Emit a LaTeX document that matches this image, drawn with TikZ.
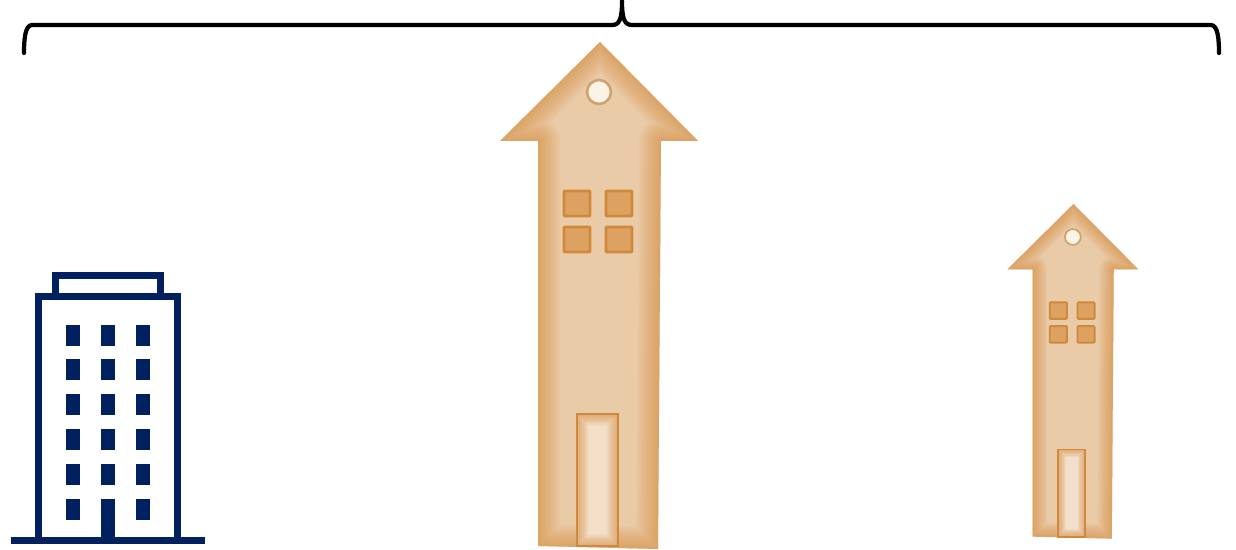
\documentclass[tikz,border=0pt]{standalone}
\usepackage{xcolor}
\usetikzlibrary{calc}
\definecolor{navy}{HTML}{002060}
\definecolor{wallbase}{HTML}{E9CBA8}
\definecolor{glowcol}{HTML}{D68A35}
\definecolor{winfill}{HTML}{DDA261}
\definecolor{winedge}{HTML}{D0893A}
\definecolor{doorlight}{HTML}{F3DFCA}
\definecolor{ringcol}{HTML}{CFA36F}
\definecolor{moon}{HTML}{FBF3E4}
\tikzset{
  bracket/.style={draw=black, line width=2.4pt, line cap=round, line join=round},
  tower/.style={draw=navy, line width=4pt, fill=white},
  pane/.style={fill=navy, draw=none}
}
% soft darker rim on the inside of a closed outline
\newcommand{\rimglow}[3]{%
  \begin{scope}
    \clip #1;
    \foreach \gi in {1,...,14}{
      \draw[glowcol, opacity=#3, line join=round, line width={\gi*\hs*#2*1pt}] #1;
    }
  \end{scope}}
\def\houseoutline{(0,0) -- (98,99) -- (61,99) -- (58,507) -- (-62,504) -- (-62,99) -- (-100,99) -- cycle}
\def\dooroutline{(-23,372) rectangle (18,504)}
\begin{document}
\begin{tikzpicture}[x=0.02cm,y=-0.02cm]
\useasboundingbox (0,0) rectangle (1236,550);

% brace
\draw[bracket] (24,53) .. controls (24,40) and (25,25) .. (32,25) -- (612,25)
  .. controls (619,25) and (622,20) .. (622,1) .. controls (622,20) and (625,25) .. (632,25)
  -- (1211,25) .. controls (1218,25) and (1219,40) .. (1219,53);

% office block
\draw[tower] (55.5,296) -- (55.5,275.5) -- (160.5,275.5) -- (160.5,296);
\draw[tower] (38.5,540) -- (38.5,296.5) -- (177.5,296.5) -- (177.5,540);
\draw[navy, line width=4pt] (10.5,540.3) -- (205,540.3);
\foreach \wx in {66,101,136}{
  \foreach \wy in {325,359,394,429,464}{
    \fill[pane] (\wx,\wy) rectangle ++(14,21);
  }
}
\fill[pane] (66,499) rectangle ++(14,21);
\fill[pane] (136,499) rectangle ++(14,21);
\fill[pane] (101,499) rectangle (115,538);

% the two houses
\foreach \hx/\hy/\hs in {600/42/1, 1073.5/204/0.66}{
  \begin{scope}[shift={(\hx,\hy)}, scale=\hs]
    \fill[wallbase] \houseoutline;
    \rimglow{\houseoutline}{1.8}{0.05}
    % windows
    \foreach \qx/\qy in {-36/149, 6/149, -36/185, 6/185}{
      \draw[winedge, fill=winfill, line width={\hs*1.6pt}, rounded corners=0.5pt] (\qx,\qy) rectangle ++(26,25);
    }
    % door
    \fill[doorlight] \dooroutline;
    \rimglow{\dooroutline}{0.95}{0.05}
    \draw[winedge, line width={\hs*1.6pt}] \dooroutline;
    % round window
    \draw[ringcol, fill=moon, line width={\hs*1.5pt}] (-1,50) circle (12);
  \end{scope}
}
\end{tikzpicture}
\end{document}
